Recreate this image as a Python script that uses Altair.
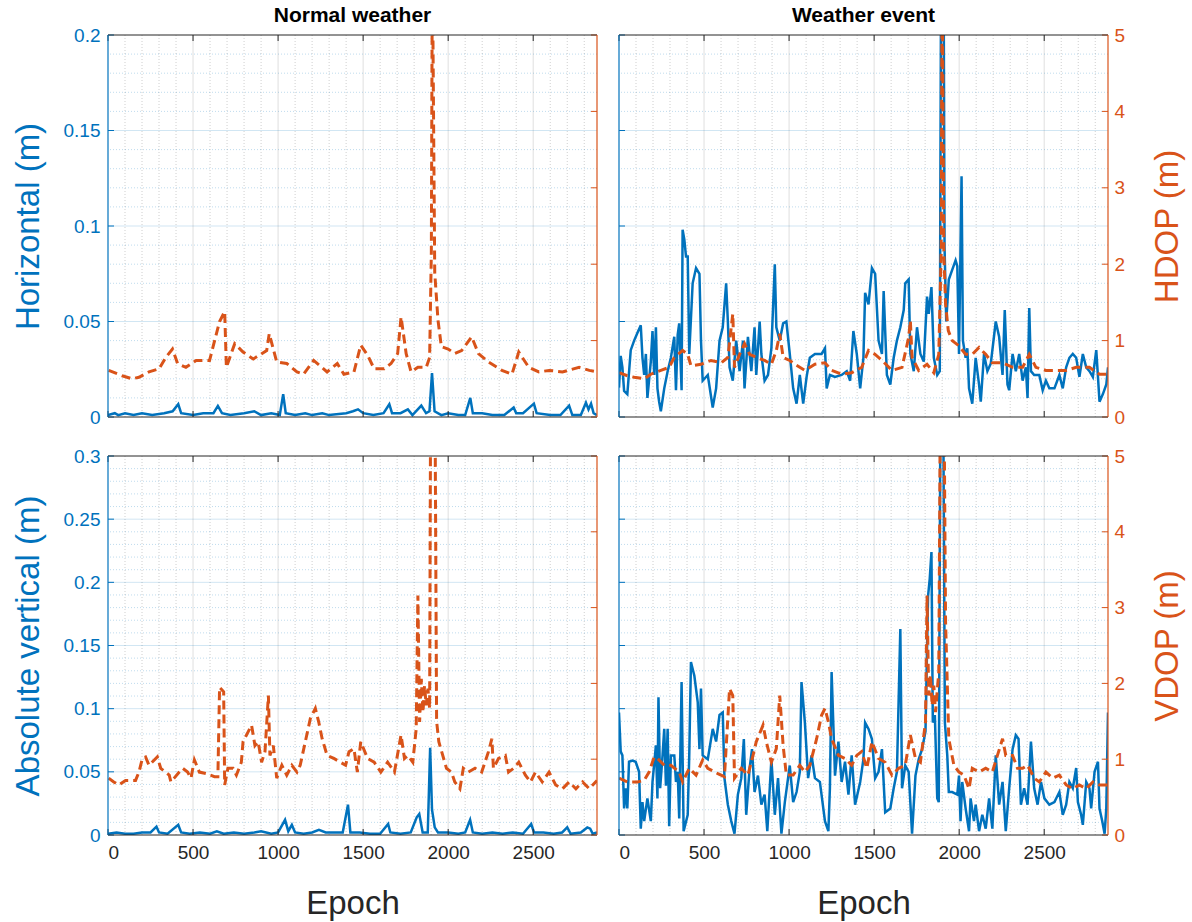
import altair as alt
import pandas as pd

BLUE = "#0072BD"
ORANGE = "#D95319"
DARK = "#262626"
FONT = "Arial, 'Liberation Sans', sans-serif"
X_MAX = 2875

# ---------------- data (epoch, value) ----------------
tl_err = [(0,0.001),(40,0.002),(60,0.001),(100,0.002),(150,0.001),(200,0.002),(260,0.001),(330,0.002),(380,0.003),(413,0.0067),
          (430,0.002),(500,0.001),(560,0.002),(620,0.002),(646,0.0058),(670,0.002),(720,0.001),(800,0.002),(860,0.003),(900,0.001),
          (960,0.002),(1010,0.001),(1030,0.012),(1045,0.002),(1100,0.001),(1160,0.002),(1200,0.001),(1260,0.002),(1300,0.001),(1400,0.002),
          (1440,0.003),(1470,0.004),(1500,0.002),(1560,0.001),(1620,0.002),(1654,0.0067),(1670,0.002),(1720,0.002),(1763,0.004),(1790,0.001),
          (1842,0.006),(1870,0.002),(1890,0.003),(1905,0.023),(1920,0.003),(1960,0.001),(2000,0.002),(2060,0.001),(2100,0.001),(2130,0.010),
          (2145,0.002),(2200,0.002),(2260,0.001),(2330,0.001),(2385,0.005),(2400,0.002),(2440,0.002),(2504,0.007),(2520,0.002),(2600,0.001),
          (2660,0.001),(2711,0.006),(2730,0.001),(2780,0.001),(2810,0.0075),(2825,0.004),(2840,0.007),(2855,0.002),(2875,0.001)]

tl_dop = [(4,0.61),(83,0.54),(142,0.50),(182,0.52),(241,0.59),(300,0.63),(340,0.78),(379,0.89),(409,0.70),(458,0.65),
          (518,0.74),(597,0.74),(656,1.25),(686,1.38),(696,0.65),(745,0.96),(794,0.85),(854,0.76),(933,0.87),(948,1.09),
          (992,0.72),(1051,0.70),(1111,0.59),(1150,0.56),(1209,0.74),(1288,0.59),(1348,0.70),(1387,0.56),(1446,0.59),(1486,0.94),
          (1526,0.81),(1565,0.63),(1624,0.63),(1664,0.70),(1703,0.83),(1723,1.31),(1753,0.83),(1782,0.59),(1822,0.65),(1871,0.65),
          (1891,0.78),(1901,2.15),(1907,6.0),(1921,1.89),(1940,1.27),(1960,0.92),(2000,0.89),(2039,0.83),(2079,0.87),(2138,1.05),
          (2178,0.83),(2237,0.72),(2316,0.61),(2375,0.56),(2415,0.85),(2474,0.65),(2533,0.59),(2593,0.61),(2672,0.59),(2770,0.65),
          (2830,0.61),(2875,0.59)]

tr_err = [(0,0.0154),(10,0.032),(20,0.026),(30,0.0137),(49,0.012),(69,0.035),(89,0.040),(108,0.044),(128,0.048),(138,0.031),
          (148,0.022),(158,0.033),(167,0.010),(187,0.029),(197,0.045),(207,0.022),(217,0.047),(226,0.015),(236,0.008),(246,0.003),
          (266,0.015),(286,0.024),(305,0.031),(325,0.042),(335,0.014),(345,0.043),(354,0.049),(368,0.014),(374,0.098),(384,0.093),
          (394,0.084),(404,0.084),(413,0.033),(433,0.070),(453,0.078),(473,0.075),(482,0.040),(492,0.019),(522,0.022),(551,0.005),
          (571,0.015),(591,0.040),(610,0.047),(630,0.070),(640,0.050),(650,0.026),(669,0.019),(689,0.040),(709,0.024),(729,0.040),
          (738,0.015),(758,0.042),(778,0.024),(797,0.047),(807,0.022),(827,0.050),(837,0.033),(856,0.019),(876,0.022),(896,0.036),
          (916,0.080),(925,0.047),(945,0.040),(965,0.049),(984,0.050),(1004,0.033),(1024,0.015),(1044,0.007),(1063,0.022),(1083,0.007),
          (1103,0.021),(1122,0.031),(1152,0.033),(1191,0.033),(1211,0.036),(1221,0.015),(1240,0.022),(1270,0.021),(1309,0.022),(1339,0.024),
          (1359,0.019),(1378,0.045),(1398,0.033),(1418,0.015),(1437,0.031),(1447,0.065),(1467,0.059),(1487,0.078),(1506,0.075),(1526,0.040),
          (1546,0.033),(1556,0.066),(1575,0.022),(1595,0.017),(1615,0.031),(1634,0.040),(1654,0.047),(1674,0.056),(1683,0.070),(1703,0.072),
          (1713,0.033),(1733,0.024),(1752,0.047),(1772,0.033),(1792,0.029),(1811,0.063),(1821,0.054),(1837,0.068),(1851,0.031),(1871,0.022),
          (1886,0.024),(1896,0.30),(1906,0.30),(1914,0.089),(1924,0.050),(1939,0.072),(1959,0.077),(1979,0.082),(1989,0.079),(1999,0.033),
          (2014,0.126),(2022,0.040),(2038,0.031),(2048,0.036),(2058,0.015),(2077,0.007),(2097,0.031),(2117,0.017),(2127,0.008),(2146,0.033),
          (2166,0.024),(2186,0.028),(2215,0.050),(2235,0.042),(2255,0.022),(2268,0.056),(2284,0.017),(2294,0.014),(2314,0.033),(2333,0.024),
          (2353,0.033),(2373,0.019),(2392,0.026),(2402,0.010),(2412,0.057),(2422,0.024),(2441,0.022),(2471,0.022),(2491,0.014),(2510,0.019),
          (2530,0.015),(2560,0.015),(2589,0.022),(2609,0.015),(2629,0.026),(2648,0.031),(2668,0.033),(2688,0.031),(2707,0.021),(2727,0.033),
          (2747,0.026),(2766,0.024),(2786,0.021),(2806,0.035),(2816,0.021),(2825,0.008),(2845,0.012),(2865,0.017),(2875,0.026)]

tr_dop = [(0,0.58),(49,0.54),(89,0.52),(148,0.50),(187,0.56),(246,0.61),(295,0.65),(325,0.78),(374,0.87),(404,0.82),
          (423,0.67),(482,0.69),(541,0.74),(601,0.71),(640,0.78),(669,1.35),(679,0.65),(709,0.82),(738,0.96),(768,0.82),
          (807,0.78),(856,0.74),(896,0.69),(925,0.87),(945,1.09),(965,0.78),(1004,0.74),(1034,0.69),(1093,0.61),(1152,0.69),
          (1211,0.71),(1250,0.61),(1309,0.56),(1368,0.58),(1427,0.65),(1467,0.87),(1506,0.82),(1546,0.74),(1605,0.61),(1664,0.65),
          (1703,1.04),(1713,1.26),(1723,0.78),(1762,0.61),(1811,0.69),(1851,0.58),(1880,0.82),(1894,2.14),(1900,6.0),(1910,2.14),
          (1920,1.48),(1936,1.13),(1959,1.00),(1999,0.93),(2038,0.82),(2077,0.82),(2117,0.91),(2156,0.82),(2195,0.71),(2255,0.71),
          (2314,0.65),(2373,0.65),(2412,0.82),(2451,0.65),(2510,0.61),(2569,0.61),(2629,0.61),(2688,0.65),(2766,0.65),(2825,0.56),
          (2875,0.56)]

bl_err = [(0,0.001),(50,0.002),(100,0.001),(150,0.001),(200,0.002),(250,0.002),(285,0.0066),(300,0.002),(350,0.001),(413,0.008),
          (430,0.002),(480,0.001),(540,0.002),(600,0.001),(640,0.003),(680,0.001),(740,0.002),(800,0.001),(860,0.002),(900,0.003),
          (960,0.001),(1000,0.002),(1041,0.012),(1060,0.003),(1081,0.008),(1100,0.002),(1150,0.001),(1200,0.002),(1240,0.004),(1280,0.002),
          (1320,0.002),(1380,0.002),(1411,0.024),(1425,0.002),(1480,0.002),(1540,0.001),(1600,0.001),(1647,0.0087),(1660,0.002),(1720,0.001),
          (1780,0.002),(1815,0.014),(1830,0.0166),(1850,0.002),(1880,0.002),(1894,0.069),(1905,0.020),(1921,0.006),(1940,0.002),(2000,0.002),
          (2060,0.001),(2100,0.002),(2129,0.012),(2145,0.002),(2200,0.001),(2260,0.002),(2320,0.001),(2380,0.002),(2440,0.001),(2488,0.0087),
          (2505,0.002),(2560,0.002),(2620,0.001),(2670,0.002),(2700,0.006),(2720,0.001),(2780,0.002),(2818,0.006),(2835,0.005),(2850,0.001),
          (2875,0.002)]

bl_dop = [(4,0.75),(34,0.70),(63,0.66),(103,0.72),(162,0.72),(182,0.83),(202,1.01),(221,1.03),(241,0.92),(290,1.03),
          (310,0.88),(360,0.79),(370,0.70),(389,0.75),(419,0.83),(439,0.88),(468,0.83),(488,0.75),(508,0.99),(537,0.83),
          (577,0.81),(626,0.77),(646,0.77),(656,1.95),(680,1.89),(686,0.66),(705,0.88),(735,0.88),(755,0.79),(784,0.96),
          (794,1.23),(844,1.45),(864,1.18),(883,1.23),(903,0.96),(923,1.10),(943,1.84),(952,1.05),(972,1.18),(992,0.75),
          (1022,0.92),(1051,0.79),(1081,0.92),(1111,0.83),(1130,0.92),(1160,1.23),(1190,1.54),(1219,1.67),(1239,1.49),(1259,1.27),
          (1288,1.05),(1328,1.01),(1367,0.96),(1397,0.92),(1417,1.10),(1446,1.14),(1466,0.83),(1486,1.23),(1526,1.01),(1565,0.96),
          (1604,0.83),(1644,0.96),(1684,0.83),(1723,1.32),(1743,1.01),(1763,1.05),(1792,0.96),(1812,1.40),(1822,3.16),(1832,1.49),
          (1842,2.06),(1852,1.62),(1861,1.97),(1871,1.71),(1881,1.93),(1891,1.67),(1897,6.0),(1922,6.0),(1932,1.50),(1945,1.23),
          (1990,0.88),(2019,0.83),(2039,0.70),(2069,0.61),(2089,0.88),(2118,0.83),(2158,0.88),(2197,0.83),(2237,1.10),(2257,1.27),
          (2266,0.88),(2296,1.01),(2336,1.05),(2355,0.83),(2385,0.88),(2415,0.96),(2454,0.79),(2484,0.70),(2513,0.83),(2553,0.70),
          (2593,0.83),(2632,0.66),(2672,0.61),(2711,0.70),(2751,0.61),(2790,0.70),(2830,0.61),(2875,0.72)]

br_err = [(0,0.097),(10,0.066),(20,0.063),(30,0.021),(39,0.037),(49,0.021),(59,0.058),(79,0.059),(98,0.058),(118,0.050),
          (128,0.005),(138,0.026),(148,0.011),(167,0.029),(187,0.011),(197,0.042),(217,0.071),(226,0.029),(232,0.109),(242,0.037),
          (256,0.063),(266,0.084),(276,0.039),(286,0.084),(295,0.007),(305,0.063),(325,0.063),(335,0.042),(345,0.050),(354,0.013),
          (368,0.121),(380,0.003),(404,0.016),(413,0.063),(423,0.137),(443,0.126),(463,0.105),(473,0.068),(482,0.116),(492,0.063),
          (522,0.060),(551,0.084),(571,0.074),(591,0.095),(610,0.097),(620,0.045),(640,0.024),(660,0.011),(679,0.001),(699,0.032),
          (719,0.045),(734,0.076),(748,0.016),(768,0.053),(782,0.068),(797,0.034),(817,0.047),(837,0.024),(856,0.032),(872,0.003),
          (896,0.060),(916,0.016),(935,0.045),(955,0.001),(975,0.026),(1004,0.055),(1024,0.026),(1044,0.034),(1063,0.050),(1073,0.121),
          (1093,0.089),(1112,0.045),(1132,0.063),(1152,0.045),(1181,0.042),(1211,0.011),(1231,0.003),(1240,0.037),(1250,0.129),(1270,0.047),
          (1290,0.074),(1309,0.042),(1329,0.058),(1349,0.032),(1368,0.063),(1388,0.024),(1418,0.042),(1437,0.060),(1447,0.089),(1467,0.084),
          (1487,0.076),(1506,0.045),(1526,0.050),(1546,0.068),(1565,0.018),(1595,0.021),(1615,0.037),(1634,0.050),(1654,0.163),(1664,0.037),
          (1683,0.055),(1703,0.050),(1723,0.001),(1743,0.047),(1762,0.060),(1782,0.068),(1802,0.082),(1817,0.189),(1827,0.203),(1837,0.224),
          (1845,0.089),(1857,0.095),(1871,0.029),(1880,0.026),(1890,0.35),(1906,0.35),(1916,0.089),(1930,0.063),(1939,0.034),(1959,0.034),
          (1989,0.032),(1999,0.047),(2008,0.011),(2018,0.042),(2038,0.021),(2058,0.003),(2067,0.029),(2087,0.011),(2097,0.024),(2117,0.003),
          (2136,0.016),(2156,0.005),(2176,0.029),(2195,0.005),(2215,0.063),(2235,0.024),(2255,0.042),(2274,0.003),(2294,0.037),(2314,0.068),
          (2333,0.079),(2349,0.076),(2363,0.024),(2382,0.037),(2402,0.024),(2422,0.074),(2441,0.037),(2461,0.024),(2481,0.042),(2501,0.029),
          (2530,0.024),(2560,0.026),(2589,0.034),(2609,0.016),(2629,0.024),(2648,0.042),(2668,0.037),(2688,0.053),(2698,0.026),(2717,0.016),
          (2727,0.008),(2747,0.042),(2766,0.037),(2776,0.021),(2796,0.050),(2816,0.058),(2825,0.021),(2841,0.011),(2855,0.001),(2865,0.021),
          (2875,0.097)]

br_dop = [(0,0.75),(49,0.70),(108,0.70),(148,0.72),(177,0.83),(207,1.03),(226,1.01),(266,0.92),(305,0.92),(354,0.83),
          (374,0.70),(413,0.88),(453,0.79),(492,0.99),(522,0.88),(581,0.81),(620,0.77),(650,1.93),(669,1.84),(679,0.75),
          (719,0.88),(758,0.79),(788,1.05),(807,1.23),(847,1.45),(866,1.23),(896,0.96),(925,1.14),(945,1.84),(965,1.18),
          (984,0.79),(1024,0.79),(1063,0.92),(1093,0.83),(1122,0.92),(1162,1.27),(1191,1.58),(1211,1.67),(1231,1.49),(1250,1.27),
          (1290,1.05),(1329,1.01),(1368,0.92),(1398,1.05),(1427,1.10),(1457,0.88),(1487,1.23),(1526,1.01),(1565,0.96),(1605,0.79),
          (1644,0.88),(1683,0.92),(1713,1.32),(1743,1.01),(1772,0.96),(1802,1.49),(1811,3.16),(1821,1.84),(1831,2.11),(1841,1.71),
          (1851,1.97),(1861,1.62),(1880,2.15),(1890,6.0),(1910,6.0),(1920,2.81),(1939,1.27),(1969,0.92),(1999,0.83),(2028,0.79),
          (2058,0.61),(2077,0.88),(2117,0.83),(2156,0.88),(2195,0.83),(2225,1.05),(2255,1.27),(2274,1.05),(2314,1.05),(2343,0.88),
          (2373,0.88),(2402,0.92),(2441,0.75),(2471,0.70),(2510,0.83),(2550,0.75),(2589,0.79),(2629,0.66),(2668,0.61),(2707,0.66),
          (2747,0.61),(2786,0.70),(2825,0.66),(2875,0.66)]

# tick positions
x_major = [0, 500, 1000, 1500, 2000, 2500]
x_minor = [v for v in range(100, 2900, 100) if v % 500 != 0]
dop_ticks = [0, 1, 2, 3, 4, 5]
top_err_ticks = [0, 0.05, 0.1, 0.15, 0.2]
bot_err_ticks = [0, 0.05, 0.1, 0.15, 0.2, 0.25, 0.3]

W = 489


def panel(err, dop, ymax, err_ticks, H, left_on, right_on, x_on,
          left_title="", right_title="", title=None):
    xs = alt.Scale(domain=[0, X_MAX], nice=False, zero=False)
    ys = alt.Scale(domain=[0, ymax], nice=False, zero=False)
    ds = alt.Scale(domain=[0, 5], nice=False, zero=False)
    one = pd.DataFrame({"a": [0]})
    y_minor = [round(i * 0.01, 2) for i in range(1, int(round(ymax * 100))) if i % 5 != 0]

    layers = []
    # grid
    layers.append(alt.Chart(pd.DataFrame({"x": x_minor})).mark_rule(
        color=DARK, opacity=0.22, strokeDash=[1, 2], strokeWidth=1).encode(
        x=alt.X("x:Q", scale=xs, axis=None)))
    layers.append(alt.Chart(pd.DataFrame({"x": x_major[1:]})).mark_rule(
        color=DARK, opacity=0.15, strokeWidth=1).encode(
        x=alt.X("x:Q", scale=xs, axis=None)))
    layers.append(alt.Chart(pd.DataFrame({"y": y_minor})).mark_rule(
        color=BLUE, opacity=0.25, strokeDash=[1, 2], strokeWidth=1).encode(
        y=alt.Y("y:Q", scale=ys, axis=None)))
    layers.append(alt.Chart(pd.DataFrame({"y": err_ticks[1:-1]})).mark_rule(
        color=BLUE, opacity=0.18, strokeWidth=1).encode(
        y=alt.Y("y:Q", scale=ys, axis=None)))

    # data
    e_df = pd.DataFrame(err, columns=["epoch", "val"])
    d_df = pd.DataFrame(dop, columns=["epoch", "dop"])
    if x_on:
        x_axis = alt.Axis(values=x_major, format="d", ticks=False, domain=False, grid=False,
                          labelFontSize=19, labelColor=DARK, labelFont=FONT, labelPadding=8,
                          title="Epoch", titleFontSize=33, titleFont=FONT, titleColor=DARK,
                          titleFontWeight="normal", titlePadding=25)
    else:
        x_axis = None
    if left_on:
        l_axis = alt.Axis(orient="left", values=err_ticks, format="~g", ticks=False, domain=False,
                          grid=False, labelFontSize=19, labelColor=BLUE, labelFont=FONT,
                          labelPadding=8, title=left_title, titleFontSize=33, titleFont=FONT,
                          titleColor=BLUE, titleFontWeight="normal", titlePadding=18)
    else:
        l_axis = None
    if right_on:
        r_axis = alt.Axis(orient="right", values=dop_ticks, format="d", ticks=False, domain=False,
                          grid=False, labelFontSize=19, labelColor=ORANGE, labelFont=FONT,
                          labelPadding=6, title=right_title, titleFontSize=33, titleFont=FONT,
                          titleColor=ORANGE, titleFontWeight="normal", titlePadding=60,
                          titleAngle=270)
    else:
        r_axis = None

    layers.append(alt.Chart(e_df).mark_line(color=BLUE, strokeWidth=2.5, clip=True).encode(
        x=alt.X("epoch:Q", scale=xs, axis=x_axis),
        y=alt.Y("val:Q", scale=ys, axis=l_axis)))
    layers.append(alt.Chart(d_df).mark_line(color=ORANGE, strokeWidth=3, strokeDash=[9, 5],
                                            clip=True).encode(
        x=alt.X("epoch:Q", scale=xs, axis=None),
        y=alt.Y("dop:Q", scale=ds, axis=r_axis)))

    # inward ticks
    layers.append(alt.Chart(pd.DataFrame({"y": err_ticks})).mark_rule(color=BLUE, strokeWidth=1).encode(
        y=alt.Y("y:Q", scale=ys, axis=None), x=alt.value(0), x2=alt.value(6)))
    layers.append(alt.Chart(pd.DataFrame({"y": dop_ticks})).mark_rule(color=ORANGE, strokeWidth=1).encode(
        y=alt.Y("y:Q", scale=ds, axis=None), x=alt.value(W - 6), x2=alt.value(W)))
    layers.append(alt.Chart(pd.DataFrame({"x": x_major})).mark_rule(color=DARK, strokeWidth=1).encode(
        x=alt.X("x:Q", scale=xs, axis=None), y=alt.value(0), y2=alt.value(6)))
    layers.append(alt.Chart(pd.DataFrame({"x": x_major})).mark_rule(color=DARK, strokeWidth=1).encode(
        x=alt.X("x:Q", scale=xs, axis=None), y=alt.value(H - 6), y2=alt.value(H)))

    # frame
    layers.append(alt.Chart(one).mark_rule(color=DARK, strokeWidth=1).encode(
        x=alt.value(0), x2=alt.value(W), y=alt.value(0)))
    layers.append(alt.Chart(one).mark_rule(color=DARK, strokeWidth=1).encode(
        x=alt.value(0), x2=alt.value(W), y=alt.value(H)))
    layers.append(alt.Chart(one).mark_rule(color=BLUE, strokeWidth=1.2).encode(
        x=alt.value(0), y=alt.value(0), y2=alt.value(H)))
    layers.append(alt.Chart(one).mark_rule(color=ORANGE, strokeWidth=1.2).encode(
        x=alt.value(W), y=alt.value(0), y2=alt.value(H)))

    ch = alt.layer(*layers).resolve_scale(y="independent").resolve_axis(
        x="independent", y="independent")
    props = dict(width=W, height=H)
    if title:
        props["title"] = alt.TitleParams(title, fontSize=21, fontWeight="bold", font=FONT,
                                         color="#000000", offset=0, anchor="middle")
    return ch.properties(**props)


tl = panel(tl_err, tl_dop, 0.2, top_err_ticks, 382, True, False, False,
           left_title="Horizontal (m)", title="Normal weather")
tr = panel(tr_err, tr_dop, 0.2, top_err_ticks, 382, False, True, False,
           right_title="HDOP (m)", title="Weather event")
bl = panel(bl_err, bl_dop, 0.3, bot_err_ticks, 379, True, False, True,
           left_title="Absolute vertical (m)")
br = panel(br_err, br_dop, 0.3, bot_err_ticks, 379, False, True, True,
           right_title="VDOP (m)")

chart = alt.vconcat(
    alt.hconcat(tl, tr, spacing=20),
    alt.hconcat(bl, br, spacing=20),
    spacing=20,
).properties(
    background="white",
    padding={"left": 12, "top": 5, "right": 2, "bottom": 2},
).configure_view(stroke=None)

chart.save("out.html", embed_options={"renderer": "svg", "actions": False})
